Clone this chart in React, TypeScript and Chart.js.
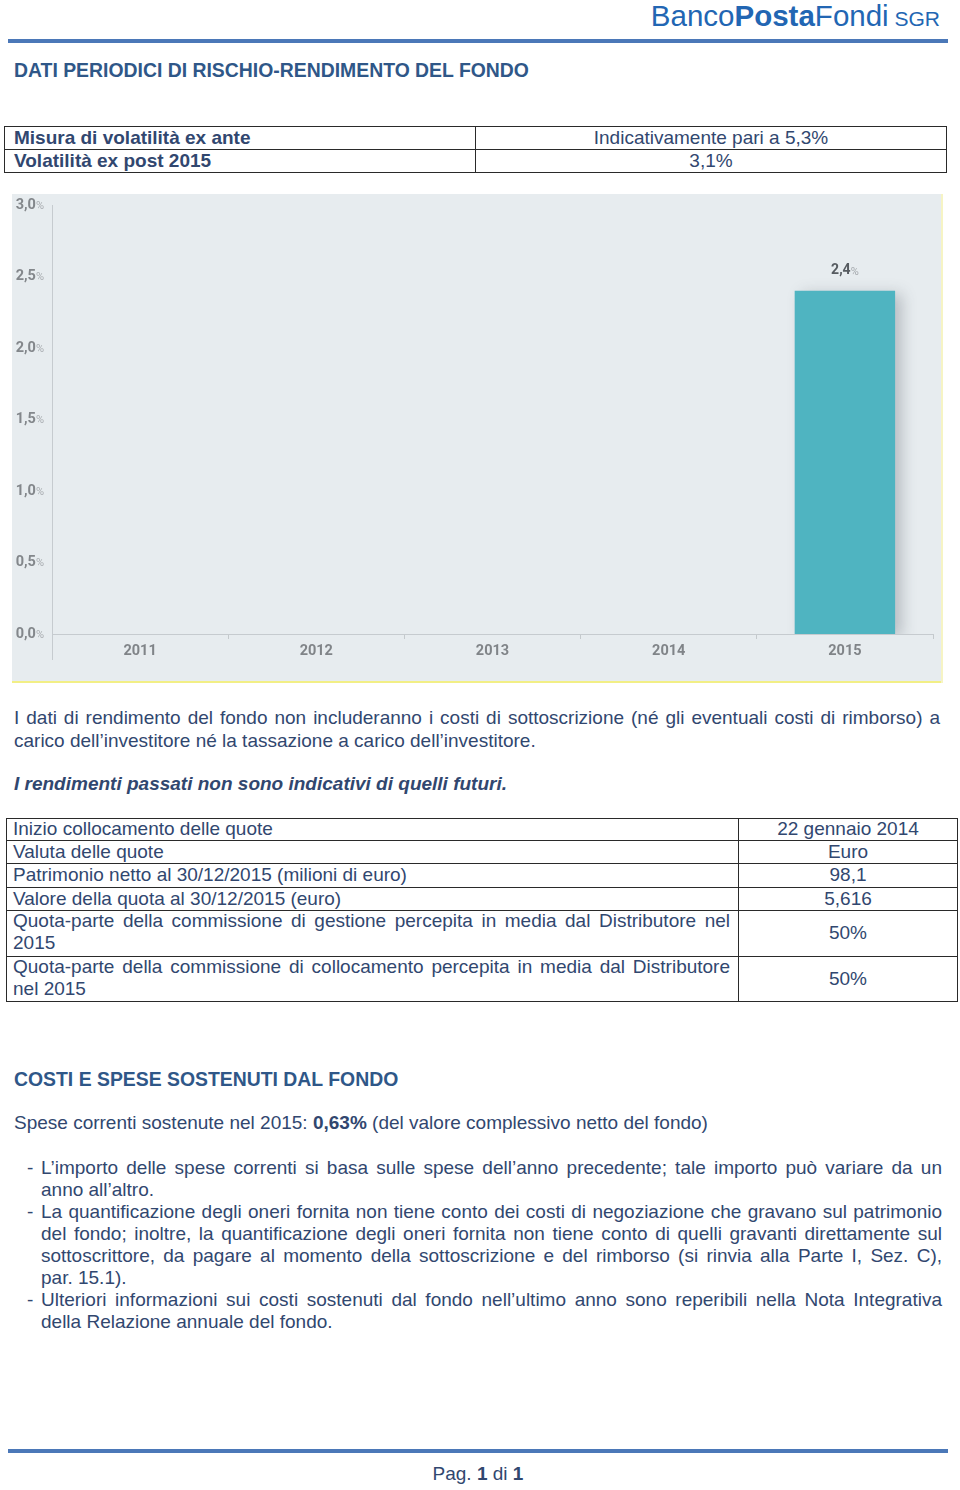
import React, { useEffect, useRef } from "react";
import { Chart, registerables } from "chart.js";

Chart.register(...registerables);

// ---- chart data ----
const years = ["2011", "2012", "2013", "2014", "2015"];
const returns: (number | null)[] = [null, null, null, null, 2.4];
const barLabels = ["", "", "", "", "2,4"];
const yTickValues = [0, 0.5, 1, 1.5, 2, 2.5, 3];
const yTickLabels = ["0,0", "0,5", "1,0", "1,5", "2,0", "2,5", "3,0"];

// ---- page text ----
const table1Rows = [
  ["Misura di volatilità ex ante", "Indicativamente pari a 5,3%"],
  ["Volatilità ex post 2015", "3,1%"],
];
const table2Rows: [string[], string][] = [
  [["Inizio collocamento delle quote"], "22 gennaio 2014"],
  [["Valuta delle quote"], "Euro"],
  [["Patrimonio netto al 30/12/2015 (milioni di euro)"], "98,1"],
  [["Valore della quota al 30/12/2015 (euro)"], "5,616"],
  [["Quota-parte della commissione di gestione percepita in media dal Distributore nel", "2015"], "50%"],
  [["Quota-parte della commissione di collocamento percepita in media dal Distributore", "nel 2015"], "50%"],
];
const para1 = [
  "I dati di rendimento del fondo non includeranno i costi di sottoscrizione (né gli eventuali costi di rimborso) a",
  "carico dell\u2019investitore né la tassazione a carico dell\u2019investitore.",
];
const bullets = [
  [
    "L\u2019importo delle spese correnti si basa sulle spese dell\u2019anno precedente; tale importo può variare da un",
    "anno all\u2019altro.",
  ],
  [
    "La quantificazione degli oneri fornita non tiene conto dei costi di negoziazione che gravano sul patrimonio",
    "del fondo; inoltre, la quantificazione degli oneri fornita non tiene conto di quelli gravanti direttamente sul",
    "sottoscrittore, da pagare al momento della sottoscrizione e del rimborso (si rinvia alla Parte I, Sez. C),",
    "par. 15.1).",
  ],
  [
    "Ulteriori informazioni sui costi sostenuti dal fondo nell\u2019ultimo anno sono reperibili nella Nota Integrativa",
    "della Relazione annuale del fondo.",
  ],
];

const FONT = "'Liberation Sans', Arial, sans-serif";
const TXT = "#31476f";
const HEAD = "#2f5788";
const LINE = "#2a2a2a";

const HL = (x1: number, x2: number, y: number, key: string) => (
  <div key={key} style={{ position: "absolute", left: x1, top: y, width: x2 - x1 + 1, height: 1, background: LINE }} />
);
const VL = (x: number, y1: number, y2: number, key: string) => (
  <div key={key} style={{ position: "absolute", left: x, top: y1, width: 1, height: y2 - y1 + 1, background: LINE }} />
);

function Line({ x, y, w, text, justify, lh = 22, style }: any) {
  return (
    <div
      style={{
        position: "absolute",
        left: x,
        top: y,
        width: w,
        height: lh,
        lineHeight: lh + "px",
        whiteSpace: "nowrap",
        textAlign: justify ? "justify" : "left",
        textAlignLast: justify ? "justify" : "auto",
        ...style,
      }}
    >
      {text}
    </div>
  );
}

function BarChart() {
  const ref = useRef<HTMLCanvasElement | null>(null);
  useEffect(() => {
    if (!ref.current) return;
    const decor = {
      id: "decor",
      beforeDatasetsDraw(chart: any) {
        const ctx = chart.ctx;
        ctx.save();
        ctx.shadowColor = "rgba(60,70,80,0.28)";
        ctx.shadowBlur = 14;
        ctx.shadowOffsetX = 7;
        ctx.shadowOffsetY = 3;
      },
      afterDatasetsDraw(chart: any) {
        const ctx = chart.ctx;
        ctx.restore();
        const meta = chart.getDatasetMeta(0);
        meta.data.forEach((el: any, i: number) => {
          const lab = barLabels[i];
          if (!lab || returns[i] == null) return;
          ctx.save();
          ctx.textBaseline = "middle";
          ctx.font = "bold 14px Roboto, sans-serif";
          const w1 = ctx.measureText(lab).width;
          ctx.font = "11px Roboto, sans-serif";
          const w2 = ctx.measureText("%").width;
          const x0 = el.x - (w1 + w2) / 2;
          ctx.font = "bold 14px Roboto, sans-serif";
          ctx.fillStyle = "#575c61";
          ctx.textAlign = "left";
          ctx.fillText(lab, x0, el.y - 20);
          ctx.font = "11px Roboto, sans-serif";
          ctx.fillStyle = "#a4a8ac";
          ctx.fillText("%", x0 + w1, el.y - 19);
          ctx.restore();
        });
      },
      afterDraw(chart: any) {
        const ctx = chart.ctx;
        const ys = chart.scales.y;
        const area = chart.chartArea;
        ctx.save();
        ctx.strokeStyle = "#c6cbcf";
        ctx.lineWidth = 1;
        ctx.beginPath();
        ctx.moveTo(area.left + 0.5, area.top);
        ctx.lineTo(area.left + 0.5, area.bottom + 26);
        ctx.stroke();
        ctx.textBaseline = "middle";
        yTickValues.forEach((v, i) => {
          const py = ys.getPixelForValue(v);
          const right = area.left - 8;
          ctx.font = "11px Roboto, sans-serif";
          const wp = ctx.measureText("%").width;
          ctx.fillStyle = "#a8acb0";
          ctx.textAlign = "right";
          ctx.fillText("%", right, py + 1);
          ctx.font = "bold 14.5px Roboto, sans-serif";
          ctx.fillStyle = "#83878b";
          ctx.fillText(yTickLabels[i], right - wp, py);
        });
        ctx.restore();
      },
    };
    const chart = new Chart(ref.current, {
      type: "bar",
      data: {
        labels: years,
        datasets: [
          {
            data: returns,
            backgroundColor: "#4fb4c1",
            borderWidth: 0,
            barPercentage: 0.57,
            categoryPercentage: 1,
          },
        ],
      },
      options: {
        animation: false,
        responsive: false,
        devicePixelRatio: 1,
        layout: { padding: { top: 11, right: 9, left: 0, bottom: 0 } },
        plugins: { legend: { display: false }, tooltip: { enabled: false } },
        scales: {
          x: {
            grid: { display: true, drawOnChartArea: false, drawTicks: true, tickLength: 5, color: "#c4c9cc", offset: true },
            border: { display: true, color: "#c6cbcf", width: 1 },
            ticks: { color: "#808488", font: { family: "Roboto", size: 14.5, weight: "bold" }, padding: 4 },
            afterFit: (s: any) => {
              s.height = 47;
            },
          },
          y: {
            min: 0,
            max: 3,
            ticks: { stepSize: 0.5, display: false },
            grid: { display: false },
            border: { display: false },
            afterFit: (s: any) => {
              s.width = 40;
            },
          },
        },
      } as any,
      plugins: [decor],
    });
    return () => chart.destroy();
  }, []);
  return <canvas ref={ref} width={930} height={487} style={{ display: "block", width: 930, height: 487 }} />;
}

export default function App() {
  const lines: any[] = [];
  [126, 149, 172].forEach((y, i) => lines.push(HL(4, 946, y, "t1h" + i)));
  [4, 475, 946].forEach((x, i) => lines.push(VL(x, 126, 172, "t1v" + i)));
  const t2y = [818, 840, 863, 887, 910, 956, 1001];
  t2y.forEach((y, i) => lines.push(HL(6, 957, y, "t2h" + i)));
  [6, 738, 957].forEach((x, i) => lines.push(VL(x, 818, 1001, "t2v" + i)));

  return (
    <div
      style={{
        position: "absolute",
        left: 0,
        top: 0,
        width: 960,
        height: 1490,
        background: "#fff",
        fontFamily: FONT,
        fontSize: 19,
        color: TXT,
        overflow: "hidden",
      }}
    >
      {/* logo */}
      <div
        style={{
          position: "absolute",
          right: 20,
          top: 1,
          height: 30,
          lineHeight: "30px",
          color: "#2266b3",
          whiteSpace: "nowrap",
          fontSize: 29.5,
        }}
      >
        Banco<b>Posta</b>Fondi<span style={{ fontSize: 21 }}> SGR</span>
      </div>
      <div style={{ position: "absolute", left: 8, top: 39, width: 940, height: 4, background: "#4b78b8" }} />

      <Line x={14} y={59} w={700} lh={22} text="DATI PERIODICI DI RISCHIO-RENDIMENTO DEL FONDO" style={{ fontWeight: "bold", color: HEAD, fontSize: 19.4 }} />

      {lines}

      {table1Rows.map((r, i) => (
        <React.Fragment key={"t1" + i}>
          <Line x={14} y={126 + i * 23} w={450} lh={23} text={r[0]} style={{ fontWeight: "bold" }} />
          <Line x={476} y={126 + i * 23} w={470} lh={23} text={r[1]} style={{ textAlign: "center" }} />
        </React.Fragment>
      ))}

      {/* chart */}
      <div style={{ position: "absolute", left: 12, top: 194, width: 930, height: 487, background: "#e7ecef" }}>
        <BarChart />
      </div>
      <div style={{ position: "absolute", left: 12, top: 681, width: 931, height: 2, background: "#f2ef86" }} />
      <div style={{ position: "absolute", left: 941, top: 194, width: 2, height: 489, background: "#f6f4c4" }} />

      {para1.map((t, i) => (
        <Line key={"p" + i} x={14} y={706 + i * 23} w={926} lh={23} text={t} justify={i < para1.length - 1} />
      ))}
      <Line
        x={14}
        y={773}
        w={700}
        lh={22}
        text="I rendimenti passati non sono indicativi di quelli futuri."
        style={{ fontWeight: "bold", fontStyle: "italic" }}
      />

      {table2Rows.map((r, i) => {
        const top = t2y[i];
        const h = t2y[i + 1] - top;
        const left = r[0];
        return (
          <React.Fragment key={"t2" + i}>
            {left.map((t, j) => (
              <Line
                key={j}
                x={13}
                y={left.length > 1 ? top + j * 22 : top}
                w={717}
                lh={left.length > 1 ? 22 : h}
                text={t}
                justify={left.length > 1 && j < left.length - 1}
              />
            ))}
            <Line x={739} y={top} w={218} lh={h} text={r[1]} style={{ textAlign: "center" }} />
          </React.Fragment>
        );
      })}

      <Line x={14} y={1068} w={700} lh={22} text="COSTI E SPESE SOSTENUTI DAL FONDO" style={{ fontWeight: "bold", color: HEAD, fontSize: 19.4 }} />
      <div style={{ position: "absolute", left: 14, top: 1112, height: 22, lineHeight: "22px", whiteSpace: "nowrap" }}>
        Spese correnti sostenute nel 2015: <b>0,63%</b> (del valore complessivo netto del fondo)
      </div>

      {(() => {
        const out: any[] = [];
        let y = 1157;
        bullets.forEach((b, bi) => {
          out.push(<Line key={"bd" + bi} x={27} y={y} w={12} lh={22} text="-" />);
          b.forEach((t, j) => {
            out.push(<Line key={"b" + bi + "_" + j} x={41} y={y} w={901} lh={22} text={t} justify={j < b.length - 1} />);
            y += 22;
          });
        });
        return out;
      })()}

      <div style={{ position: "absolute", left: 8, top: 1449, width: 940, height: 4, background: "#4b78b8" }} />
      <div
        style={{
          position: "absolute",
          left: 0,
          top: 1463,
          width: 956,
          textAlign: "center",
          height: 22,
          lineHeight: "22px",
        }}
      >
        Pag. <b>1</b> di <b>1</b>
      </div>
    </div>
  );
}
